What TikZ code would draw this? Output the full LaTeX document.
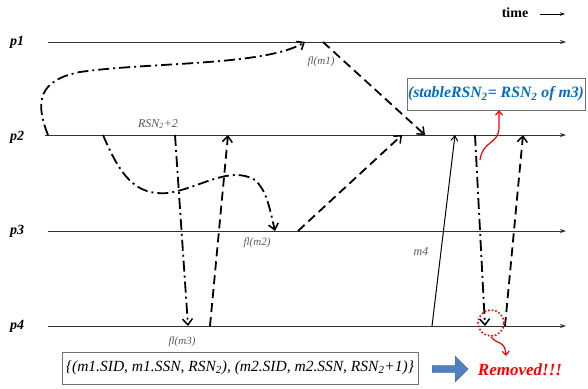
\documentclass[tikz,border=0pt]{standalone}
\usepackage{fontspec}
\setmainfont{Liberation Serif}
\usetikzlibrary{arrows.meta,shapes.arrows,decorations.pathmorphing}
\definecolor{boxblue}{RGB}{0,112,192}
\definecolor{arrblue}{RGB}{79,129,189}
\tikzset{
  proc/.style={line width=0.8pt, draw=black!80, -{Stealth[length=6pt,width=4pt]}},
  plabel/.style={font=\bfseries\itshape\fontsize{14}{16}\selectfont, anchor=west, inner sep=0pt},
  msgdd/.style={line width=1.8pt, dash pattern=on 11pt off 4pt on 2pt off 4pt, -{Straight Barb[length=6pt,width=10pt,line width=1.5pt]}},
  msgd/.style={line width=1.8pt, dash pattern=on 9pt off 5pt, -{Straight Barb[length=6pt,width=10pt,line width=1.5pt]}},
  msgs/.style={line width=1pt, -{Straight Barb[length=5pt,width=7pt,line width=1pt]}},
  small/.style={font=\itshape\fontsize{11}{13}\selectfont, text=black!65, inner sep=1pt},
}
\begin{document}
\begin{tikzpicture}[x=1pt,y=-1pt]
\useasboundingbox (0,0) rectangle (588,388);
% process lines
\coordinate (p1s) at (48,42);  \coordinate (p1e) at (566,42);
\coordinate (p2s) at (45,135); \coordinate (p2e) at (566,135);
\coordinate (p3s) at (48,231); \coordinate (p3e) at (566,231);
\coordinate (p4s) at (48,326); \coordinate (p4e) at (566,326);
\draw[proc] (p1s) -- (p1e);
\draw[proc] (p2s) -- (p2e);
\draw[proc] (p3s) -- (p3e);
\draw[proc] (p4s) -- (p4e);
\node[plabel] (lp1) at (10,42) {p1};
\node[plabel] (lp2) at (10,137) {p2};
\node[plabel] (lp3) at (10,231) {p3};
\node[plabel] (lp4) at (10,326) {p4};
% time
\node[font=\bfseries\fontsize{14}{16}\selectfont, inner sep=0pt] (time) at (515,13) {time};
\coordinate (ts) at (540,14); \coordinate (te) at (565,14);
\draw[line width=0.8pt, -{Stealth[length=5pt,width=3.5pt]}] (ts) -- (te);
% m1: p2 -> p1
\coordinate (m1s) at (48,135); \coordinate (m1e) at (305,42);
\draw[msgdd] (m1s) .. controls (34,100) and (40,80) .. (80,72) .. controls (150,62) and (265,66) .. (m1e);
\node[small] (fl1) at (321,62) {fl(m1)};
% p1 -> p2 dashed
\coordinate (d1s) at (323,42); \coordinate (d1e) at (425,135);
\draw[msgd] (d1s) -- (d1e);
% p3 -> p2 dashed
\coordinate (d2s) at (298,231); \coordinate (d2e) at (402,135);
\draw[msgd] (d2s) -- (d2e);
% m2: p2 -> p3
\coordinate (m2s) at (103,135); \coordinate (m2e) at (275,231);
\draw[msgdd] (m2s) .. controls (120,175) and (135,196) .. (168,193) .. controls (200,188) and (230,165) .. (255,180) .. controls (266,190) and (269,205) .. (m2e);
\node[small] (fl2) at (257,243) {fl(m2)};
% m3: p2 -> p4
\coordinate (m3s) at (175,135); \coordinate (m3e) at (188,326);
\draw[msgdd] (m3s) -- (m3e);
\node[small, font=\itshape\fontsize{12}{14}\selectfont] (rsn) at (158,124) {RSN\textsubscript{2}+2};
\node[small] (fl3) at (182,342) {fl(m3)};
% p4 -> p2 dashed
\coordinate (d3s) at (210,326); \coordinate (d3e) at (228,135);
\draw[msgd] (d3s) -- (d3e);
% m4 solid
\coordinate (m4s) at (432,326); \coordinate (m4e) at (455,135);
\draw[msgs] (m4s) -- (m4e);
\node[small, font=\itshape\fontsize{12}{14}\selectfont] (lm4) at (421,252) {m4};
% p2 -> p4 dash-dot
\coordinate (m5s) at (475,135); \coordinate (m5e) at (485,326);
\draw[msgdd] (m5s) -- (m5e);
% p4 -> p2 dashed
\coordinate (d4s) at (505,326); \coordinate (d4e) at (523,135);
\draw[msgd] (d4s) -- (d4e);
% stable box
\node[draw=black!55, line width=0.6pt, minimum width=178pt, minimum height=32pt, inner sep=1pt,
      font=\bfseries\itshape\fontsize{15.8}{18}\selectfont, text=boxblue] (stable) at (496,94)
      {(stableRSN\textsubscript{2}= RSN\textsubscript{2} of m3)};
\coordinate (rs) at (480,160);
\draw[red, line width=1.2pt, -{Straight Barb[length=4pt,width=7pt]}] (rs) .. controls (483,140) and (498,145) .. (499,128) -- (stable.south -| 499,0);
% bottom box
\node[draw=black!55, line width=0.6pt, minimum width=356pt, minimum height=32pt, inner sep=2pt,
      font=\itshape\fontsize{15.5}{18}\selectfont] (set) at (240,368)
      {\{(m1.SID, m1.SSN, RSN\textsubscript{2}), (m2.SID, m2.SSN, RSN\textsubscript{2}+1)\}};
% block arrow
\node[single arrow, fill=arrblue, draw=arrblue!80!black, minimum height=36pt, minimum width=26pt,
      single arrow head extend=3pt, inner sep=1pt, anchor=west] (barrow) at (432,369) {};
% removed
\node[font=\bfseries\itshape\fontsize{17}{19}\selectfont, text=red, inner sep=0pt] (removed) at (520,370) {Removed!!!};
\node[draw=red, circle, dotted, line width=1.6pt, minimum size=26pt, inner sep=0pt] (circ) at (491,323) {};
\draw[red, line width=1.2pt, -{Straight Barb[length=4pt,width=7pt]}] (circ.south) .. controls (497,345) and (505,340) .. (506,356);
\end{tikzpicture}
\end{document}
